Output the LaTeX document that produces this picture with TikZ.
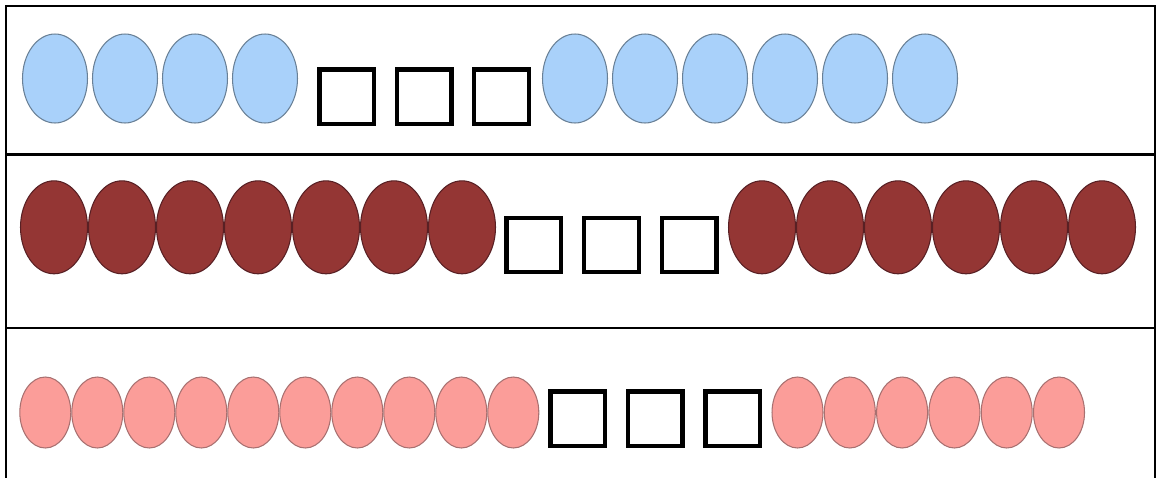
\documentclass[tikz,border=0pt]{standalone}
\usepackage{xcolor}
\definecolor{beadblue}{RGB}{169,209,250}
\definecolor{beadblueline}{RGB}{105,128,150}
\definecolor{beadred}{RGB}{148,54,52}
\definecolor{beadredline}{RGB}{88,32,36}
\definecolor{beadpink}{RGB}{251,157,153}
\definecolor{beadpinkline}{RGB}{168,112,112}
\usepackage{tikz}
\usetikzlibrary{shapes.geometric}
\tikzset{
  bead/.style={
    ellipse, line width=0.6pt, inner sep=0pt, outer sep=0pt
  },
  bluebead/.style={
    bead, draw=beadblueline, fill=beadblue,
    minimum width=1.3cm, minimum height=1.78cm
  },
  redbead/.style={
    bead, draw=beadredline, fill=beadred,
    minimum width=1.34cm, minimum height=1.86cm
  },
  pinkbead/.style={
    bead, draw=beadpinkline, fill=beadpink,
    minimum width=1.02cm, minimum height=1.42cm
  },
  gapbox/.style={
    rectangle, draw=black, fill=white, line width=2.5pt,
    inner sep=0pt, minimum size=1.09cm
  },
  rule/.style={line width=1.2pt, color=black},
}
\begin{document}
\begin{tikzpicture}[x=0.02cm, y=-0.02cm]
  \useasboundingbox (0,0) rectangle (1158,477);

  % table frame
  \draw [rule] (6,480) -- (6,6) -- (1155,6) -- (1155,480);
  \draw [rule] (6,154.5) -- (1155,154.5);
  \draw [rule] (6,328) -- (1155,328);

  % row 1
  \foreach \i in {0,...,3}
    \node (bl\i) [bluebead] at ({55+70*\i},78.5) {};
  \foreach \i in {0,...,2}
    \node (qa\i) [gapbox] at ({346.7+77.4*\i},96.7) {};
  \foreach \i in {0,...,5}
    \node (br\i) [bluebead] at ({575+70*\i},78.5) {};

  % row 2
  \foreach \i in {0,...,6}
    \node (rl\i) [redbead] at ({54+68*\i},227.3) {};
  \foreach \i in {0,...,2}
    \node (qb\i) [gapbox] at ({533.8+77.7*\i},245) {};
  \foreach \i in {0,...,5}
    \node (rr\i) [redbead] at ({762+68*\i},227.3) {};

  % row 3
  \foreach \i in {0,...,9}
    \node (pl\i) [pinkbead] at ({45.3+52*\i},412.5) {};
  \foreach \i in {0,...,2}
    \node (qc\i) [gapbox] at ({577.8+77.4*\i},418.8) {};
  \foreach \i in {0,...,5}
    \node (pr\i) [pinkbead] at ({797.5+52.3*\i},412.5) {};
\end{tikzpicture}
\end{document}
